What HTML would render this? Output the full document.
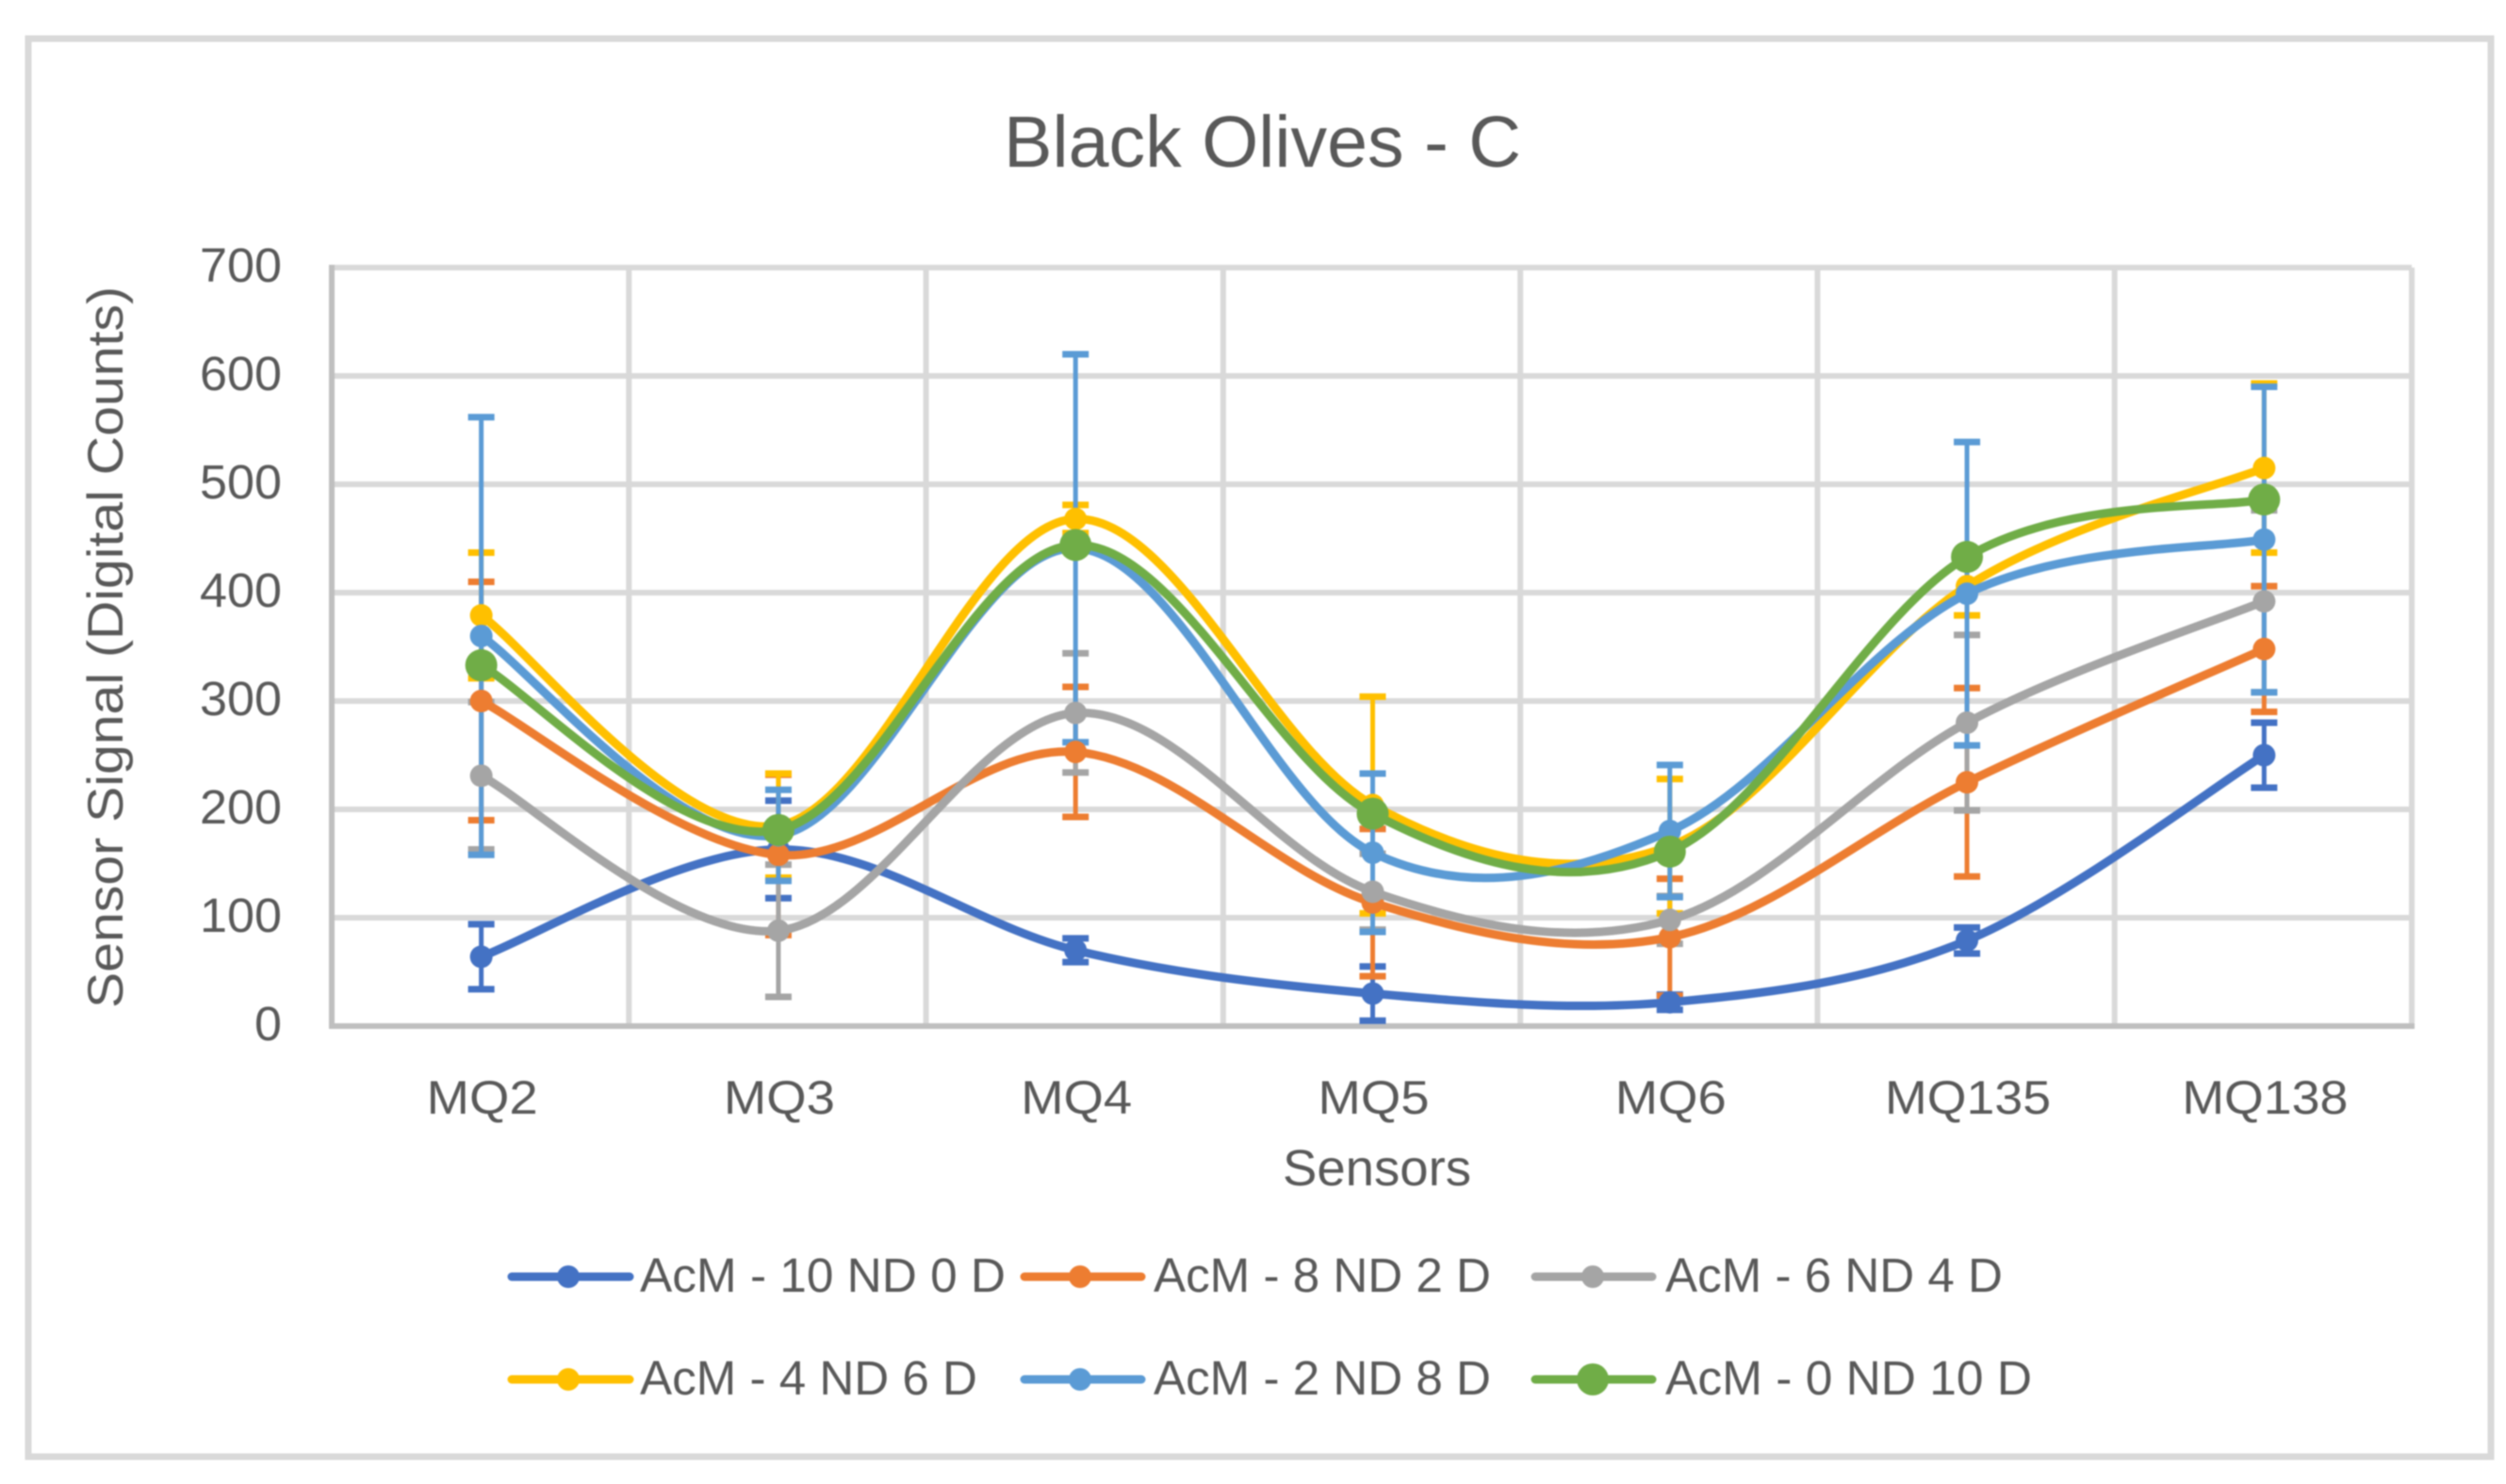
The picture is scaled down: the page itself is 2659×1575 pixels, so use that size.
<!DOCTYPE html>
<html>
<head>
<meta charset="utf-8">
<title>Black Olives - C</title>
<style>
html,body{margin:0;padding:0;background:#fff;}
svg{display:block;filter:blur(0.8px);}
text{font-family:"Liberation Sans",sans-serif;fill:#595959;}
</style>
</head>
<body>
<svg id="chart" xmlns="http://www.w3.org/2000/svg" width="2659" height="1575" viewBox="0 0 2659 1575">
  <rect x="0" y="0" width="2659" height="1575" fill="#ffffff"/>
  <rect x="30" y="41" width="2613" height="1505" fill="#ffffff" stroke="#d9d9d9" stroke-width="7"/>
  <text x="1065" y="177" font-size="77" textLength="549" lengthAdjust="spacingAndGlyphs">Black Olives - C</text>
  <g id="plot"></g>
  <text transform="translate(130,687) rotate(-90)" text-anchor="middle" font-size="53" textLength="766" lengthAdjust="spacingAndGlyphs">Sensor Signal (Digital Counts)</text>
  <text x="1361" y="1258" font-size="54" textLength="200" lengthAdjust="spacingAndGlyphs">Sensors</text>

  <g>
    <g>
      <line x1="543" y1="1355" x2="668" y2="1355" stroke="#4472C4" stroke-width="9" stroke-linecap="round"/>
      <circle cx="603" cy="1355" r="12" fill="#4472C4"/>
      <text x="679" y="1371" font-size="51" textLength="388" lengthAdjust="spacingAndGlyphs">AcM - 10 ND 0 D</text>
    </g>
    <g>
      <line x1="1087" y1="1355" x2="1211" y2="1355" stroke="#ED7D31" stroke-width="9" stroke-linecap="round"/>
      <circle cx="1146" cy="1355" r="12" fill="#ED7D31"/>
      <text x="1224" y="1371" font-size="51" textLength="358" lengthAdjust="spacingAndGlyphs">AcM - 8 ND 2 D</text>
    </g>
    <g>
      <line x1="1629" y1="1355" x2="1753" y2="1355" stroke="#A5A5A5" stroke-width="9" stroke-linecap="round"/>
      <circle cx="1690" cy="1355" r="12" fill="#A5A5A5"/>
      <text x="1767" y="1371" font-size="51" textLength="358" lengthAdjust="spacingAndGlyphs">AcM - 6 ND 4 D</text>
    </g>
    <g>
      <line x1="543" y1="1464" x2="668" y2="1464" stroke="#FFC000" stroke-width="9" stroke-linecap="round"/>
      <circle cx="603" cy="1464" r="12" fill="#FFC000"/>
      <text x="679" y="1480" font-size="51" textLength="358" lengthAdjust="spacingAndGlyphs">AcM - 4 ND 6 D</text>
    </g>
    <g>
      <line x1="1087" y1="1464" x2="1211" y2="1464" stroke="#5B9BD5" stroke-width="9" stroke-linecap="round"/>
      <circle cx="1146" cy="1464" r="12" fill="#5B9BD5"/>
      <text x="1224" y="1480" font-size="51" textLength="358" lengthAdjust="spacingAndGlyphs">AcM - 2 ND 8 D</text>
    </g>
    <g>
      <line x1="1629" y1="1464" x2="1753" y2="1464" stroke="#70AD47" stroke-width="9" stroke-linecap="round"/>
      <circle cx="1690" cy="1464" r="17" fill="#70AD47"/>
      <text x="1767" y="1480" font-size="51" textLength="389" lengthAdjust="spacingAndGlyphs">AcM - 0 ND 10 D</text>
    </g>
  </g>
</svg>

<script>
const categories = ['MQ2', 'MQ3', 'MQ4', 'MQ5', 'MQ6', 'MQ135', 'MQ138'];
const yTicks = [0, 100, 200, 300, 400, 500, 600, 700];

const acm10nd0d = [64, 163, 70, 30, 22, 79, 250];
const acm8nd2d = [300, 158, 253, 114, 82, 225, 348];
const acm6nd4d = [231, 88, 289, 124, 98, 280, 392];
const acm4nd6d = [379, 185, 468, 204, 166, 406, 515];
const acm2nd8d = [360, 176, 441, 160, 180, 399, 449];
const acm0nd10d = [333, 181, 444, 196, 161, 433, 486];

const err10nd0d = [30, 45, 11, 25, 7, 12, 30];
const err8nd2d = [110, 74, 60, 68, 54, 87, 58];
const err6nd4d = [68, 61, 55, 35, 22, 81, 84];
const err4nd6d = [58, 48, 13, 100, 62, 27, 78];
const err2nd8d = [202, 42, 179, 73, 61, 140, 141];
const err0nd10d = [0, 0, 0, 0, 0, 0, 0];

const seriesValues = [acm10nd0d, acm8nd2d, acm6nd4d, acm4nd6d, acm2nd8d, acm0nd10d];
const seriesErrors = [err10nd0d, err8nd2d, err6nd4d, err4nd6d, err2nd8d, err0nd10d];
const seriesColors = ['#4472C4', '#ED7D31', '#A5A5A5', '#FFC000', '#5B9BD5', '#70AD47'];

const NS = 'http://www.w3.org/2000/svg';
const plot = document.getElementById('plot');
const left = 352, right = 2559, top_ = 284, bottom = 1089, yMax = 700;
const band = (right - left) / categories.length;

function xScale(i) { return left + band * (i + 0.5) + 1; }
function yScale(v) { return bottom - (v / yMax) * (bottom - top_); }

function make(tag, attrs, parent) {
  const el = document.createElementNS(NS, tag);
  for (const k in attrs) el.setAttribute(k, attrs[k]);
  (parent || plot).appendChild(el);
  return el;
}

// gridlines
yTicks.forEach(function (t) {
  if (t === 0) return;
  const el = make('line', { x1: left, x2: right, y1: yScale(t), y2: yScale(t), stroke: '#d9d9d9', 'stroke-width': 6 });
  
  
});
for (let i = 1; i <= categories.length; i++) {
  const x = left + band * i;
  const el = make('line', { x1: x, x2: x, y1: top_, y2: bottom, stroke: '#d9d9d9', 'stroke-width': 6 });
  
  
}

// axes
const yAxisLine = make('line', { x1: left, x2: left, y1: top_ - 3, y2: bottom + 3, stroke: '#bfbfbf', 'stroke-width': 6 });


const xAxisLine = make('line', { x1: left - 3, x2: right + 3, y1: bottom, y2: bottom, stroke: '#bfbfbf', 'stroke-width': 6 });



// tick labels
yTicks.forEach(function (t) {
  const s = String(t);
  const el = make('text', { x: 299, y: yScale(t) + 15, 'text-anchor': 'end', 'font-size': 51, textLength: 29 * s.length, lengthAdjust: 'spacingAndGlyphs' });
  el.textContent = s;
  
  
});
categories.forEach(function (c, i) {
  const el = make('text', { x: xScale(i) + 1, y: 1182, 'text-anchor': 'middle', 'font-size': 50, textLength: 29 * (c.length + 1) + 2, lengthAdjust: 'spacingAndGlyphs' });
  el.textContent = c;
  
  
});

// error bars
seriesValues.forEach(function (vals, s) {
  vals.forEach(function (v, i) {
    const e = seriesErrors[s][i];
    if (!e) return;
    const x = xScale(i), hi = yScale(v + e), lo = yScale(v - e);
    const g = make('g', { stroke: seriesColors[s], fill: 'none' });
    
    
    make('line', { x1: x, x2: x, y1: hi, y2: lo, 'stroke-width': 5 }, g);
    make('line', { x1: x - 14, x2: x + 14, y1: hi, y2: hi, 'stroke-width': 7 }, g);
    make('line', { x1: x - 14, x2: x + 14, y1: lo, y2: lo, 'stroke-width': 7 }, g);
  });
});

// smoothed lines (Catmull-Rom as Excel's smooth line)
function smoothPath(vals) {
  const p = vals.map(function (v, i) { return [xScale(i), yScale(v)]; });
  let d = 'M' + p[0][0] + ' ' + p[0][1];
  for (let i = 0; i < p.length - 1; i++) {
    const a = p[Math.max(i - 1, 0)], b = p[i], c = p[i + 1], n = p[Math.min(i + 2, p.length - 1)];
    const c1x = b[0] + (c[0] - a[0]) / 6, c1y = b[1] + (c[1] - a[1]) / 6;
    const c2x = c[0] - (n[0] - b[0]) / 6, c2y = c[1] - (n[1] - b[1]) / 6;
    d += ' C' + c1x + ' ' + c1y + ' ' + c2x + ' ' + c2y + ' ' + c[0] + ' ' + c[1];
  }
  return d;
}

seriesValues.forEach(function (vals, s) {
  const line = make('path', { d: smoothPath(vals), fill: 'none', stroke: seriesColors[s], 'stroke-width': 9, 'stroke-linecap': 'round' });
  
  
  vals.forEach(function (v, i) {
    const r = s === 5 ? 17 : 12;
    const dot = make('circle', { cx: xScale(i), cy: yScale(v), r: r, fill: seriesColors[s] });
    
    
  });
});
</script>
</body>
</html>
